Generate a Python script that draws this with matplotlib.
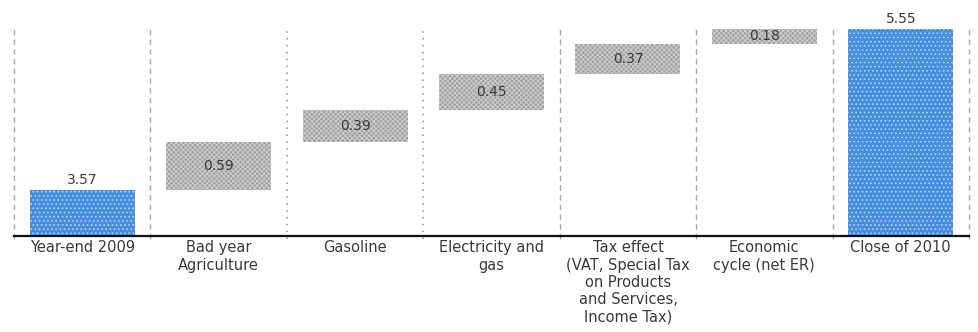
import numpy as np
import matplotlib.pyplot as plt

# Inflation bridge: 2009 year-end to close of 2010 (percentage points)
categories = [
    "Year-end 2009",
    "Bad year\nAgriculture",
    "Gasoline",
    "Electricity and\ngas",
    "Tax effect\n(VAT, Special Tax\non Products\nand Services,\nIncome Tax)",
    "Economic\ncycle (net ER)",
    "Close of 2010",
]
start_value = 3.57
contributions = [0.59, 0.39, 0.45, 0.37, 0.18]
end_value = 5.55

plt.rcParams["font.family"] = ["DejaVu Sans"]
plt.rcParams["hatch.linewidth"] = 0.7

fig = plt.figure(figsize=(9.79, 3.32), dpi=100)
ax = fig.add_axes([0.0143, 0.289, 0.9755, 0.633])

x = np.arange(len(categories))
width = 0.77
text_color = "#3a3a3a"

# totals (blue, dotted fill)
for xi, val in [(x[0], start_value), (x[-1], end_value)]:
    ax.bar(xi, val, width=width, color="#4a8de0", edgecolor="#a3dcf8",
           hatch="....", linewidth=0, zorder=2)
    ax.text(xi, val + 0.04, f"{val:.2f}", ha="center", va="bottom",
            fontsize=10, color=text_color)

# floating steps (grey, fine checker fill)
bottoms = start_value + np.concatenate([[0], np.cumsum(contributions)[:-1]])
for xi, b, c in zip(x[1:-1], bottoms, contributions):
    ax.bar(xi, c, bottom=b, width=width, color="#a0a0a0", edgecolor="#cdcdcd",
           hatch="xxxxxxx", linewidth=0, zorder=2)
    ax.text(xi, b + c / 2, f"{c:.2f}", ha="center", va="center",
            fontsize=10, color=text_color, zorder=3)

# separators between categories, running just past the baseline
bounds = np.arange(len(categories) + 1) - 0.5
for i, bx in enumerate(bounds):
    if i in (2, 3):
        ax.plot([bx, bx], [2.96, 5.59], color="#8f8f8f", linewidth=1.1,
                linestyle=(0, (1, 3.5)), zorder=1, clip_on=False)
    else:
        ax.plot([bx, bx], [2.96, 5.59], color="#a8a8a8", linewidth=1.0,
                linestyle=(0, (4, 3)), zorder=1, clip_on=False)

ax.set_xlim(-0.5, len(categories) - 0.5)
ax.set_ylim(3.0, 5.59)

for side in ("top", "right", "left"):
    ax.spines[side].set_visible(False)
ax.spines["bottom"].set_color("#111111")
ax.spines["bottom"].set_linewidth(1.6)
ax.spines["bottom"].set_zorder(4)

ax.set_yticks([])
ax.set_xticks(x)
ax.set_xticklabels(categories, fontsize=10.5, color=text_color, linespacing=1.2)
ax.tick_params(axis="x", length=0, pad=3)

fig.savefig("out.png", dpi=100)
